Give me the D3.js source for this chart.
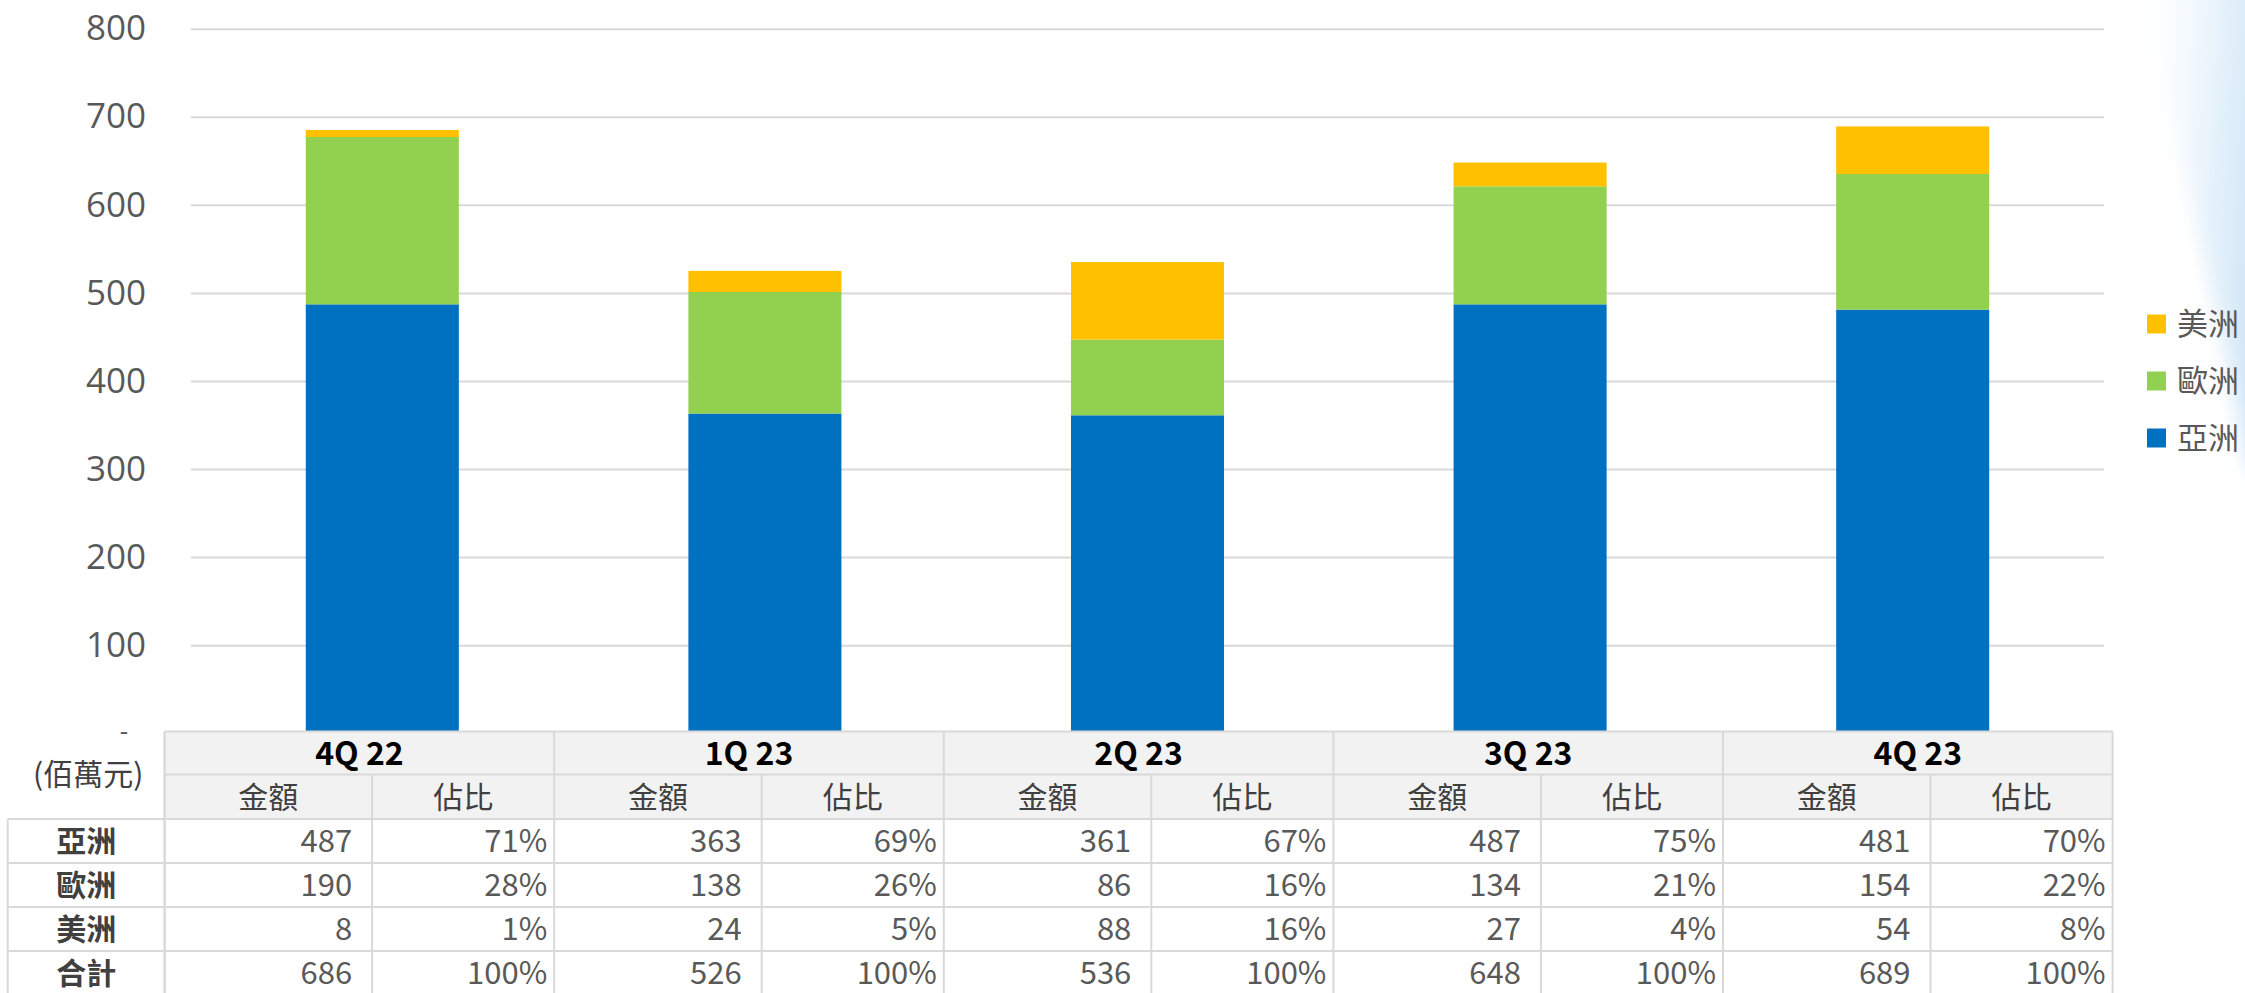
<!DOCTYPE html>
<html>
<head>
<meta charset="utf-8">
<script src="https://cdn.jsdelivr.net/npm/d3@7"></script>
<style>
  body { margin: 0; background: #fff; }
  text { font-family: "Noto Sans CJK TC", "Noto Sans", sans-serif; }
</style>
</head>
<body>
<div id="chart"></div>
<script>
// Chart data
const quarters = ["4Q 22", "1Q 23", "2Q 23", "3Q 23", "4Q 23"];
const regions = ["亞洲", "歐洲", "美洲"];
const asia = [487, 363, 361, 487, 481];
const europe = [190, 138, 86, 134, 154];
const america = [8, 24, 88, 27, 54];
const totals = [686, 526, 536, 648, 689];
const asiaShare = [71, 69, 67, 75, 70];
const europeShare = [28, 26, 16, 21, 22];
const americaShare = [1, 5, 16, 4, 8];
const yTicks = [0, 100, 200, 300, 400, 500, 600, 700, 800];
const unitLabel = "(佰萬元)";
const subHeaders = ["金額", "佔比"];

const colors = { "亞洲": "#0070c0", "歐洲": "#92d050", "美洲": "#ffc000" };

const W = 2245, H = 993;

const svg = d3.select("#chart")
    .append("svg")
    .attr("width", W)
    .attr("height", H);

// faint background swoosh at top right
const defs = svg.append("defs");
const grad = defs.append("linearGradient")
    .attr("id", "swoosh")
    .attr("x1", "0").attr("y1", "0").attr("x2", "1").attr("y2", "0.2");
grad.append("stop").attr("offset", "0%").attr("stop-color", "#ffffff").attr("stop-opacity", 0);
grad.append("stop").attr("offset", "55%").attr("stop-color", "#dcedf9").attr("stop-opacity", 0.8);
grad.append("stop").attr("offset", "100%").attr("stop-color", "#c4def3").attr("stop-opacity", 1);
defs.append("filter")
    .attr("id", "soft")
    .attr("x", "-20%").attr("y", "-20%").attr("width", "140%").attr("height", "140%")
    .append("feGaussianBlur")
    .attr("stdDeviation", 10);
svg.append("path")
    .attr("d", "M2135,-40 C2170,110 2210,270 2250,470 L2300,470 L2300,-40 Z")
    .attr("fill", "url(#swoosh)")
    .attr("filter", "url(#soft)");

// Scales
const xScale = d3.scaleBand()
    .domain(quarters)
    .range([191, 2104])
    .paddingInner(0.6)
    .paddingOuter(0.3);

const yScale = d3.scaleLinear()
    .domain([0, 800])
    .range([733.2, 28.7]);

// Y axis with gridlines
const yAxis = d3.axisLeft(yScale)
    .tickValues(yTicks)
    .tickSize(-(2104 - 191))
    .tickPadding(45)
    .tickFormat(d => d === 0 ? "-" : d);

const yAxisGroup = svg.append("g")
    .attr("class", "y-axis")
    .attr("transform", "translate(191,0)")
    .call(yAxis);

yAxisGroup.select(".domain").remove();
yAxisGroup.selectAll(".tick line")
    .attr("stroke", "#d9d9d9")
    .attr("stroke-width", 2)
    .attr("opacity", d => d === 0 ? 0 : 1);
yAxisGroup.selectAll(".tick text")
    .attr("fill", "#595959")
    .attr("font-size", d => d === 0 ? 26 : 35)
    .style("font-family", "'Open Sans', sans-serif")
    .attr("dx", d => d === 0 ? -18 : 0)
    .attr("dy", d => d === 0 ? "0.25em" : "0.32em");

// Stacked bars
const rows = quarters.map((q, i) => ({ quarter: q, "亞洲": asia[i], "歐洲": europe[i], "美洲": america[i] }));
const stacked = d3.stack().keys(regions)(rows);

svg.selectAll(".layer")
    .data(stacked)
    .enter()
    .append("g")
    .attr("class", "layer")
    .attr("fill", d => colors[d.key])
    .selectAll("rect")
    .data(d => d)
    .enter()
    .append("rect")
    .attr("x", d => xScale(d.data.quarter))
    .attr("width", xScale.bandwidth())
    .attr("y", d => yScale(d[1]))
    .attr("height", d => yScale(d[0]) - yScale(d[1]));

// Legend (top to bottom: 美洲, 歐洲, 亞洲)
const legendKeys = regions.slice().reverse();
const legend = svg.selectAll(".legend")
    .data(legendKeys)
    .enter()
    .append("g")
    .attr("class", "legend")
    .attr("transform", (d, i) => `translate(2147, ${324 + i * 57})`);
legend.append("rect")
    .attr("x", 0).attr("y", -9.5)
    .attr("width", 19).attr("height", 19)
    .attr("fill", d => colors[d]);
legend.append("text")
    .attr("x", 30)
    .attr("dy", "0.36em")
    .attr("font-size", 31)
    .attr("fill", "#595959")
    .text(d => d);

// Data table under the chart
const tableLeft = 7.7, labelRight = 164.6, tableRight = 2112.6;
const groupScale = d3.scaleBand().domain(quarters).range([labelRight, tableRight]);
const subW = 207.5;
const rowTop = [731.5, 774.5, 819, 863, 907, 951, 995];

const table = svg.append("g").attr("class", "table");

table.append("rect")
    .attr("x", labelRight).attr("y", rowTop[0])
    .attr("width", tableRight - labelRight).attr("height", rowTop[2] - rowTop[0])
    .attr("fill", "#f2f2f2");
table.append("rect")
    .attr("x", tableLeft).attr("y", rowTop[2])
    .attr("width", tableRight - tableLeft).attr("height", H - rowTop[2])
    .attr("fill", "#ffffff");

// grid lines
const lineColor = "#d9d9d9";
const hLines = [
    [labelRight, rowTop[0]], [labelRight, rowTop[1]],
    [tableLeft, rowTop[2]], [tableLeft, rowTop[3]], [tableLeft, rowTop[4]], [tableLeft, rowTop[5]]
];
table.selectAll(".hline")
    .data(hLines)
    .enter()
    .append("line")
    .attr("x1", d => d[0]).attr("x2", tableRight)
    .attr("y1", d => d[1]).attr("y2", d => d[1])
    .attr("stroke", lineColor).attr("stroke-width", 2);

const vLines = [[tableLeft, rowTop[2]], [labelRight, rowTop[0]], [tableRight, rowTop[0]]];
quarters.forEach(q => {
    vLines.push([groupScale(q), rowTop[0]]);
    vLines.push([groupScale(q) + subW, rowTop[1]]);
});
table.selectAll(".vline")
    .data(vLines)
    .enter()
    .append("line")
    .attr("x1", d => d[0]).attr("x2", d => d[0])
    .attr("y1", d => d[1]).attr("y2", H)
    .attr("stroke", lineColor).attr("stroke-width", 2);

// unit label
table.append("text")
    .attr("x", (tableLeft + labelRight) / 2 + 2)
    .attr("y", 774)
    .attr("dy", "0.36em")
    .attr("text-anchor", "middle")
    .attr("font-size", 30)
    .attr("fill", "#404040")
    .text(unitLabel);

// quarter headers
table.selectAll(".qhead")
    .data(quarters)
    .enter()
    .append("text")
    .attr("x", d => groupScale(d) + groupScale.bandwidth() / 2)
    .attr("y", (rowTop[0] + rowTop[1]) / 2)
    .attr("dy", "0.36em")
    .attr("text-anchor", "middle")
    .attr("font-size", 32)
    .attr("font-weight", "bold")
    .attr("fill", "#000")
    .text(d => d);

// sub headers
quarters.forEach(q => {
    const g0 = groupScale(q);
    const centers = [g0 + subW / 2, g0 + subW + (groupScale.bandwidth() - subW) / 2];
    subHeaders.forEach((s, j) => {
        table.append("text")
            .attr("x", centers[j])
            .attr("y", (rowTop[1] + rowTop[2]) / 2)
            .attr("dy", "0.36em")
            .attr("text-anchor", "middle")
            .attr("font-size", 30)
            .attr("fill", "#404040")
            .text(s);
    });
});

// body rows
const bodyRows = [
    { label: "亞洲", amount: asia, share: asiaShare },
    { label: "歐洲", amount: europe, share: europeShare },
    { label: "美洲", amount: america, share: americaShare },
    { label: "合計", amount: totals, share: quarters.map(() => 100) }
];

bodyRows.forEach((r, i) => {
    const cy = (rowTop[i + 2] + rowTop[i + 3]) / 2;
    table.append("text")
        .attr("x", (tableLeft + labelRight) / 2)
        .attr("y", cy)
        .attr("dy", "0.36em")
        .attr("text-anchor", "middle")
        .attr("font-size", 30)
        .attr("font-weight", "bold")
        .attr("fill", "#404040")
        .text(r.label);
    quarters.forEach((q, k) => {
        const g0 = groupScale(q);
        table.append("text")
            .attr("x", g0 + subW - 20)
            .attr("y", cy)
            .attr("dy", "0.36em")
            .attr("text-anchor", "end")
            .attr("font-size", 31)
            .attr("fill", "#595959")
            .text(r.amount[k]);
        table.append("text")
            .attr("x", g0 + groupScale.bandwidth() - 7)
            .attr("y", cy)
            .attr("dy", "0.36em")
            .attr("text-anchor", "end")
            .attr("font-size", 31)
            .attr("fill", "#595959")
            .text(r.share[k] + "%");
    });
});
</script>
</body>
</html>
